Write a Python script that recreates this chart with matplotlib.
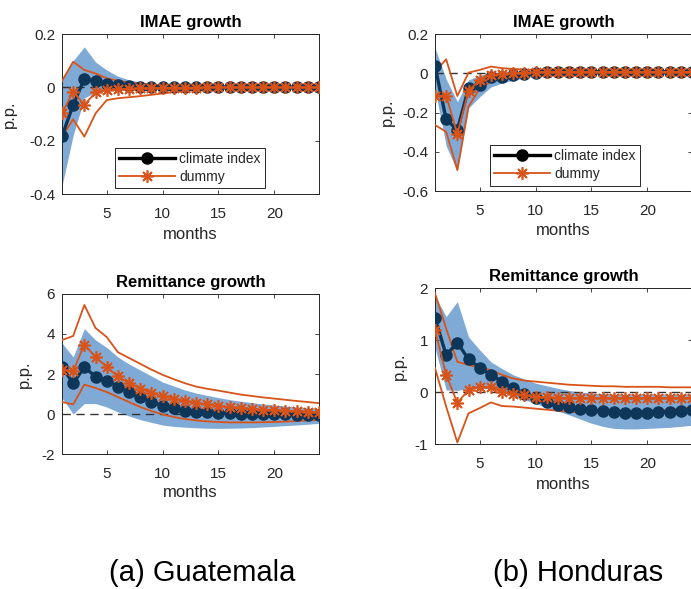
import numpy as np
import matplotlib
matplotlib.use("Agg")
import matplotlib.pyplot as plt
from matplotlib.lines import Line2D
from matplotlib.ticker import FuncFormatter

plt.rcParams['font.family'] = ['Liberation Sans', 'DejaVu Sans']
plt.rcParams['axes.unicode_minus'] = False

# horizonte (meses)
months = np.arange(1, 25)

# (a) Guatemala - IMAE growth
gt_imae_clim = [-0.183, -0.066, 0.032, 0.025, 0.014, 0.008, 0.005, 0.003, 0.002, 0.001, 0.001, 0.0,
                0.0, 0.0, 0.0, 0.0, 0.0, 0.0, 0.0, 0.0, 0.0, 0.0, 0.0, 0.0]
gt_imae_clim_hi = [0.035, 0.10, 0.152, 0.095, 0.065, 0.042, 0.028, 0.02, 0.014, 0.01, 0.007, 0.005,
                   0.004, 0.003, 0.002, 0.002, 0.001, 0.001, 0.001, 0.001, 0.0, 0.0, 0.0, 0.0]
gt_imae_clim_lo = [-0.37, -0.18, -0.04, -0.018, -0.012, -0.01, -0.008, -0.006, -0.005, -0.004, -0.003, -0.002,
                   -0.002, -0.001, -0.001, -0.001, 0.0, 0.0, 0.0, 0.0, 0.0, 0.0, 0.0, 0.0]
gt_imae_dum = [-0.098, -0.016, -0.066, -0.019, -0.010, -0.007, -0.005, -0.004, -0.003, -0.002, -0.002, -0.001,
               -0.001, 0.0, 0.0, 0.0, 0.0, 0.0, 0.0, 0.0, 0.0, 0.0, 0.0, 0.0]
gt_imae_dum_hi = [0.024, 0.096, 0.065, 0.052, 0.034, 0.025, 0.018, 0.013, 0.01, 0.008, 0.006, 0.005,
                  0.004, 0.003, 0.002, 0.002, 0.001, 0.001, 0.001, 0.001, 0.001, 0.0, 0.0, 0.0]
gt_imae_dum_lo = [-0.185, -0.12, -0.185, -0.098, -0.048, -0.041, -0.037, -0.033, -0.028, -0.023, -0.018, -0.013,
                  -0.009, -0.006, -0.004, -0.003, -0.002, -0.001, -0.001, -0.001, 0.0, 0.0, 0.0, 0.0]

# (b) Honduras - IMAE growth
hn_imae_clim = [0.037, -0.235, -0.289, -0.075, -0.06, -0.021, -0.017, -0.008, -0.002, 0.002, 0.004, 0.005,
                0.006, 0.006, 0.007, 0.007, 0.007, 0.007, 0.007, 0.007, 0.007, 0.007, 0.007, 0.007]
hn_imae_clim_hi = [0.13, -0.03, -0.145, -0.034, -0.01, 0.0, 0.005, 0.006, 0.007, 0.008, 0.009, 0.009,
                   0.009, 0.01, 0.01, 0.01, 0.01, 0.01, 0.01, 0.01, 0.01, 0.01, 0.01, 0.01]
hn_imae_clim_lo = [-0.08, -0.37, -0.50, -0.177, -0.12, -0.07, -0.05, -0.035, -0.025, -0.015, -0.01, -0.006,
                   -0.003, -0.001, 0.0, 0.001, 0.002, 0.002, 0.002, 0.002, 0.002, 0.002, 0.002, 0.002]
hn_imae_dum = [-0.114, -0.114, -0.31, -0.09, -0.034, -0.009, -0.004, 0.0, 0.003, 0.005, 0.006, 0.007,
               0.007, 0.007, 0.007, 0.007, 0.007, 0.007, 0.007, 0.007, 0.007, 0.007, 0.007, 0.007]
hn_imae_dum_hi = [0.008, 0.071, -0.116, 0.003, 0.017, 0.034, 0.026, 0.022, 0.019, 0.017, 0.015, 0.014,
                  0.013, 0.012, 0.012, 0.011, 0.011, 0.011, 0.01, 0.01, 0.01, 0.01, 0.01, 0.01]
hn_imae_dum_lo = [-0.264, -0.298, -0.493, -0.17, -0.077, -0.043, -0.026, -0.015, -0.008, -0.004, -0.002, 0.0,
                  0.001, 0.002, 0.002, 0.003, 0.003, 0.003, 0.003, 0.003, 0.003, 0.003, 0.003, 0.003]

# (a) Guatemala - Remittance growth
gt_rem_clim = [2.35, 1.53, 2.35, 1.87, 1.67, 1.37, 1.12, 0.87, 0.62, 0.42, 0.28, 0.17,
               0.12, 0.08, 0.05, 0.03, 0.02, 0.01, 0.0, -0.01, -0.02, -0.03, -0.04, -0.05]
gt_rem_clim_hi = [3.55, 2.85, 4.27, 3.7, 3.33, 2.85, 2.5, 2.2, 1.9, 1.6, 1.4, 1.2,
                  1.05, 0.93, 0.82, 0.72, 0.64, 0.57, 0.5, 0.45, 0.4, 0.35, 0.31, 0.27]
gt_rem_clim_lo = [0.8, 0.0, 0.52, 0.52, 0.35, 0.1, -0.1, -0.28, -0.42, -0.55, -0.62, -0.66,
                  -0.69, -0.71, -0.72, -0.71, -0.7, -0.68, -0.65, -0.62, -0.58, -0.55, -0.51, -0.47]
gt_rem_dum = [2.2, 2.15, 3.47, 2.85, 2.35, 1.88, 1.55, 1.27, 1.05, 0.88, 0.77, 0.65,
              0.55, 0.48, 0.4, 0.35, 0.3, 0.25, 0.22, 0.2, 0.17, 0.14, 0.12, 0.08]
gt_rem_dum_hi = [3.7, 3.9, 5.45, 4.3, 3.85, 3.09, 2.8, 2.51, 2.22, 1.96, 1.74, 1.54,
                 1.37, 1.26, 1.17, 1.07, 0.97, 0.9, 0.83, 0.77, 0.71, 0.65, 0.6, 0.54]
gt_rem_dum_lo = [0.6, 0.48, 1.47, 1.3, 1.1, 0.85, 0.6, 0.35, 0.15, -0.02, -0.15, -0.25,
                 -0.32, -0.37, -0.4, -0.42, -0.42, -0.42, -0.41, -0.4, -0.38, -0.35, -0.32, -0.3]

# (b) Honduras - Remittance growth
hn_rem_clim = [1.42, 0.71, 0.95, 0.63, 0.47, 0.33, 0.2, 0.07, -0.03, -0.12, -0.19, -0.25,
               -0.29, -0.33, -0.35, -0.37, -0.39, -0.4, -0.4, -0.4, -0.39, -0.38, -0.36, -0.35]
hn_rem_clim_hi = [1.85, 1.45, 1.74, 1.06, 0.81, 0.58, 0.45, 0.33, 0.25, 0.17, 0.12, 0.07,
                  0.03, 0.0, -0.02, -0.03, -0.04, -0.04, -0.04, -0.04, -0.04, -0.04, -0.04, -0.04]
hn_rem_clim_lo = [0.85, 0.04, 0.03, 0.07, 0.07, 0.06, 0.0, -0.08, -0.15, -0.22, -0.3, -0.37,
                  -0.44, -0.52, -0.6, -0.66, -0.7, -0.71, -0.71, -0.7, -0.69, -0.68, -0.66, -0.64]
hn_rem_dum = [1.19, 0.33, -0.21, 0.04, 0.1, 0.09, 0.0, -0.04, -0.06, -0.09, -0.1, -0.11,
              -0.12, -0.12, -0.12, -0.12, -0.12, -0.12, -0.12, -0.12, -0.12, -0.12, -0.12, -0.11]
hn_rem_dum_hi = [1.9, 1.22, 0.58, 0.52, 0.47, 0.42, 0.33, 0.26, 0.22, 0.2, 0.18, 0.16,
                 0.14, 0.13, 0.12, 0.11, 0.11, 0.1, 0.1, 0.1, 0.1, 0.09, 0.09, 0.09]
hn_rem_dum_lo = [0.46, -0.28, -0.97, -0.41, -0.31, -0.2, -0.27, -0.28, -0.3, -0.32, -0.34, -0.36,
                 -0.38, -0.39, -0.4, -0.4, -0.4, -0.4, -0.39, -0.38, -0.36, -0.34, -0.32, -0.3]

titles = ['IMAE growth', 'IMAE growth', 'Remittance growth', 'Remittance growth']
captions = ['(a) Guatemala', '(b) Honduras']
yticks_list = [[-0.4, -0.2, 0, 0.2], [-0.6, -0.4, -0.2, 0, 0.2], [-2, 0, 2, 4, 6], [-1, 0, 1, 2]]
legend_labels = ['climate index', 'dummy']

NAVY = '#0d3659'
ORANGE = '#d95319'
BAND = '#80aad6'
AXC = '#262626'

W, H = 691, 589
fig = plt.figure(figsize=(W / 100, H / 100), dpi=100)

def px_axes(l, t, r, b):
    return fig.add_axes([l / W, 1 - b / H, (r - l) / W, (b - t) / H])

# (left, top, right, bottom) em pixels, ylabel centro x, xlabel topo y
boxes = [(62, 34, 319, 194, 17, 227), (435, 34, 692, 191, 395, 223),
         (62, 294, 319, 454, 32, 485), (435, 288, 692, 444, 407, 477)]

panels = [
    (gt_imae_clim, gt_imae_clim_lo, gt_imae_clim_hi, gt_imae_dum, gt_imae_dum_lo, gt_imae_dum_hi),
    (hn_imae_clim, hn_imae_clim_lo, hn_imae_clim_hi, hn_imae_dum, hn_imae_dum_lo, hn_imae_dum_hi),
    (gt_rem_clim, gt_rem_clim_lo, gt_rem_clim_hi, gt_rem_dum, gt_rem_dum_lo, gt_rem_dum_hi),
    (hn_rem_clim, hn_rem_clim_lo, hn_rem_clim_hi, hn_rem_dum, hn_rem_dum_lo, hn_rem_dum_hi),
]

for i, (box, data) in enumerate(zip(boxes, panels)):
    l, t, r, b, ylab_x, xlab_y = box
    clim, clim_lo, clim_hi, dum, dum_lo, dum_hi = data
    ax = px_axes(l, t, r, b)

    ax.fill_between(months, clim_lo, clim_hi, color=BAND, lw=0, zorder=1)
    ax.axhline(0, color='#333333', ls=(0, (6, 4)), lw=1.0, zorder=2)
    ax.plot(months, dum_hi, color=ORANGE, lw=1.3, zorder=3)
    ax.plot(months, dum_lo, color=ORANGE, lw=1.3, zorder=3)
    ax.plot(months, clim, color=NAVY, lw=2.4, marker='o', ms=8, mfc=NAVY, mec=NAVY, zorder=4)
    ax.plot(months, dum, color=ORANGE, lw=1.3, marker=(8, 2, 0), ms=9, mew=1.2, zorder=5)

    yt = yticks_list[i]
    ax.set_xlim(1, 24)
    ax.set_ylim(yt[0], yt[-1])
    ax.set_xticks([5, 10, 15, 20])
    ax.set_yticks(yt)
    ax.yaxis.set_major_formatter(FuncFormatter(lambda v, p: '%g' % round(v, 2)))
    ax.tick_params(direction='in', top=True, right=True, length=3, width=0.6,
                   color=AXC, labelcolor=AXC, labelsize=11)
    ax.tick_params(axis='x', pad=9)
    ax.tick_params(axis='y', pad=5)
    for s in ax.spines.values():
        s.set_color(AXC)
        s.set_linewidth(0.7)

    ax.set_title(titles[i], fontsize=12, fontweight='bold', pad=5)
    ax.set_xlabel('months', fontsize=12, color=AXC)
    ax.set_ylabel('p.p.', fontsize=12, color=AXC)
    ax.yaxis.set_label_coords((ylab_x - l) / (r - l), 0.5)
    ax.xaxis.set_label_coords(0.5, (b - xlab_y) / (b - t))

    if i < 2:
        handles = [Line2D([], [], color='black', lw=2.4, marker='o', ms=8, mfc='black', mec='black'),
                   Line2D([], [], color=ORANGE, lw=1.3, marker=(8, 2, 0), ms=9, mew=1.2)]
        leg = ax.legend(handles, legend_labels, loc='lower left',
                        bbox_to_anchor=((115 + (l - 62) + (0 if i == 0 else 2) - l) / (r - l), 0.035),
                        fontsize=10, frameon=True, fancybox=False, framealpha=1,
                        edgecolor=AXC, handlelength=4.0, handletextpad=0.3,
                        labelspacing=0.3, borderpad=0.3, borderaxespad=0)
        leg.get_frame().set_linewidth(0.7)
        for txt in leg.get_texts():
            txt.set_color(AXC)

fig.text(202 / W, 1 - 573 / H, captions[0], fontsize=21, ha='center', va='center')
fig.text(578 / W, 1 - 573 / H, captions[1], fontsize=21, ha='center', va='center')

fig.savefig('out.png', dpi=100)
